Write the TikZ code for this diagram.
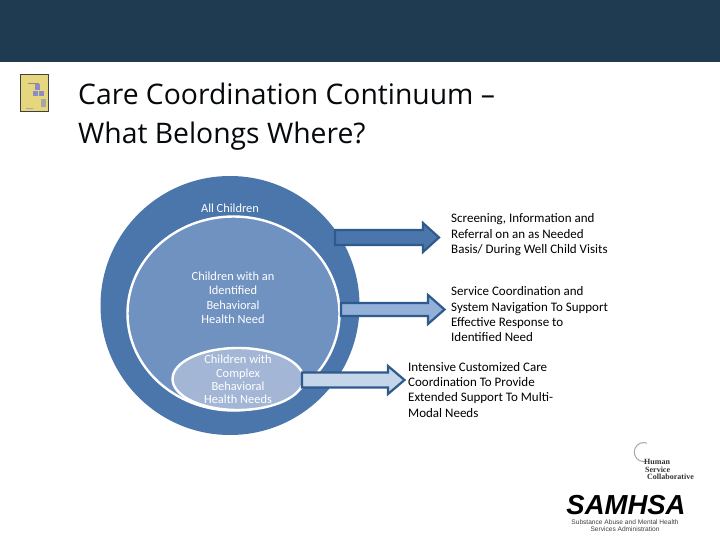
\documentclass[tikz,border=0pt]{standalone}
\usepackage{fontspec}
\setmainfont{Carlito}
\newfontfamily\titlefont{Open Sans}
\newfontfamily\logofont{Liberation Sans}
\newfontfamily\serifl{Liberation Serif}
\definecolor{band}{HTML}{1F3B52}
\definecolor{outerb}{HTML}{4A76AC}
\definecolor{midb}{HTML}{7092C1}
\definecolor{innerb}{HTML}{A3B6D6}
\definecolor{arrowedge}{HTML}{2F5A8C}
\definecolor{arrowb}{HTML}{93B0D8}
\definecolor{arrowc}{HTML}{C5D5EA}
\definecolor{icony}{HTML}{E6D77E}
\tikzset{
  onblue/.style={text=white,font=\fontsize{12.4}{14.5}\selectfont,align=center,inner sep=0pt},
  sidelabel/.style={text=black,font=\fontsize{13}{15.4}\selectfont,align=left,anchor=north west,inner sep=0pt},
  fatarrow/.style={draw=arrowedge,line width=2.2pt,line join=miter},
}
\newcommand{\fatarrow}[7]{% x0 x1 xhead ymid halfshaft halfhead fill
  \path[fatarrow,fill=#7] (#1,#4-#5) -- (#3,#4-#5) -- (#3,#4-#6) -- (#2,#4) -- (#3,#4+#6) -- (#3,#4+#5) -- (#1,#4+#5) -- cycle;}
\begin{document}
\begin{tikzpicture}[x=1pt,y=-1pt]
\useasboundingbox (0,0) rectangle (720,540);
\fill[white] (0,0) rectangle (720,540);
\fill[band] (0,0) rectangle (720,62);
% icon
\fill[black!75] (20,74) rectangle (49,112);
\fill[icony] (21,75) rectangle (48,111);
\fill[blue!50!black!45] (35,84) rectangle (40,90);
\fill[blue!50!black!45] (33,91) rectangle (38,96);
\fill[blue!50!black!45] (39,91) rectangle (44,96);
\fill[black!45] (28,83) rectangle (39,84);
\fill[black!35] (41,99) rectangle (46,107);
\fill[black!35] (26,108) rectangle (33,109);
% title
\node[anchor=north west,inner sep=0pt,align=left,text=black!85!band,font=\titlefont\fontsize{28.3}{39}\selectfont] (title) at (78,82.5) {Care Coordination Continuum –\\What Belongs Where?};
% circles
\fill[outerb] (230,305.5) circle[radius=129.5];
\filldraw[fill=midb,draw=white,line width=2.4pt] (233.5,313.5) ellipse[x radius=106,y radius=97];
\filldraw[fill=innerb,draw=white,line width=2.4pt] (238,379) ellipse[x radius=65.5,y radius=31];
% labels in circles
\node[onblue] (all) at (230,208.5) {All Children};
\node[onblue] (need) at (233,297.5) {Children with an\\Identified\\Behavioral\\Health Need};
\node[onblue,font=\fontsize{12.4}{13.2}\selectfont] (complex) at (238,379.5) {Children with\\Complex\\Behavioral\\Health Needs};
% arrows
\fatarrow{335}{439}{423}{237.5}{7.5}{14.5}{outerb}
\fatarrow{341}{444.5}{428}{309.5}{6.5}{14.5}{arrowb}
\fatarrow{302}{404.5}{388}{380}{7.5}{14}{arrowc}
% side labels
\node[sidelabel] (s1) at (451,213.5) {Screening, Information and\\Referral on an as Needed\\Basis/ During Well Child Visits};
\node[sidelabel] (s2) at (451,286.5) {Service Coordination and\\System Navigation To Support\\Effective Response to\\Identified Need};
\node[sidelabel] (s3) at (408,361.8) {Intensive Customized Care\\Coordination To Provide\\Extended Support To Multi-\\Modal Needs};
% logos
\draw[black!35,line width=1pt] (647,461) arc[start angle=70,end angle=290,radius=9.5];
\node[anchor=north west,inner sep=0pt,font=\serifl\bfseries\fontsize{8}{7.2}\selectfont,align=left,text=black!80] (hsc) at (644,459.5) {Human\\\hspace*{1pt}Service\\\hspace*{3pt}Collaborative};
\node[anchor=center,inner sep=0pt,font=\logofont\bfseries\itshape\fontsize{27.5}{28}\selectfont,text=black] (sam) at (626,505) {SAMHSA};
\node[anchor=north,inner sep=0pt,align=center,font=\logofont\fontsize{6.6}{7.5}\selectfont,text=black!75] (sub) at (625,519.5) {Substance Abuse and Mental Health\\Services Administration};
\end{tikzpicture}
\end{document}
